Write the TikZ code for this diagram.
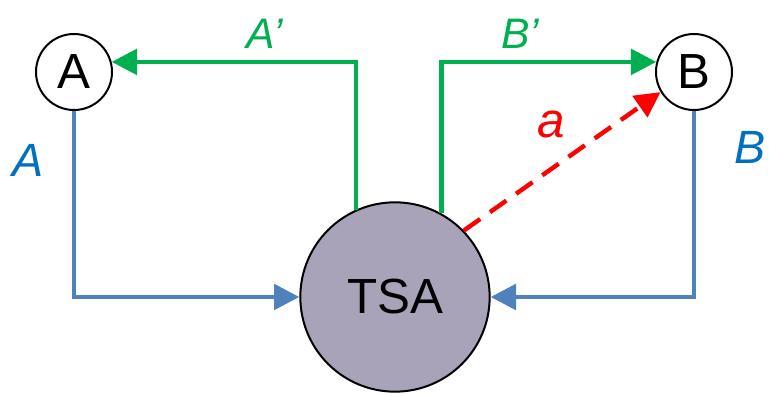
\documentclass[tikz,border=0pt]{standalone}
\usepackage{fontspec}
\setmainfont{Liberation Sans}
\usetikzlibrary{arrows.meta,positioning}
\definecolor{flowblue}{HTML}{4F81BD}
\definecolor{labelblue}{HTML}{0070C0}
\definecolor{flowgreen}{HTML}{00B050}
\definecolor{tsagray}{HTML}{A9A3BA}

\begin{document}
\begin{tikzpicture}[
    x=0.75pt, y=-0.75pt,
    >={Triangle[length=19pt,width=19pt]},
    party/.style={
        circle,
        draw,
        line width=1.5pt,
        fill=white,
        minimum size=57pt,
        inner sep=0pt,
        font=\fontsize{37}{40}\selectfont
    },
    hub/.style={
        circle,
        draw,
        line width=1.5pt,
        fill=tsagray,
        minimum size=142pt,
        inner sep=0pt,
        font=\fontsize{37}{40}\selectfont
    },
    bluewire/.style={draw=flowblue, line width=3.3pt, ->},
    greenwire/.style={draw=flowgreen, line width=3.3pt, ->},
    redwire/.style={draw=red, line width=3.3pt, ->, dash pattern=on 15pt off 9pt},
    tag/.style={font=\fontsize{32}{34}\selectfont\itshape}
]
\useasboundingbox (0,0) rectangle (769,395);

\node[party] (A) at (74,72) {A};
\node[party] (B) at (694,72) {B};
\node[hub] (TSA) at (395,297) {TSA};

\draw[bluewire] (A.south) |- (TSA.west);
\draw[bluewire] (B.south) |- (TSA.east);
\draw[greenwire] (TSA.114) |- (A.15);
\draw[greenwire] (TSA.61) |- (B.165);
\draw[redwire] (TSA.44) -- (B.211);

\node[tag, text=flowgreen] (labelAp) at (265,34) {A’};
\node[tag, text=flowgreen] (labelBp) at (520,34) {B’};
\node[tag, text=red, font=\fontsize{37}{40}\selectfont\itshape] (labela) at (551,124) {a};
\node[tag, text=labelblue, font=\fontsize{35}{38}\selectfont\itshape] (labelA) at (28,160) {A};
\node[tag, text=labelblue, font=\fontsize{35}{38}\selectfont\itshape] (labelB) at (750,147) {B};

\end{tikzpicture}
\end{document}
